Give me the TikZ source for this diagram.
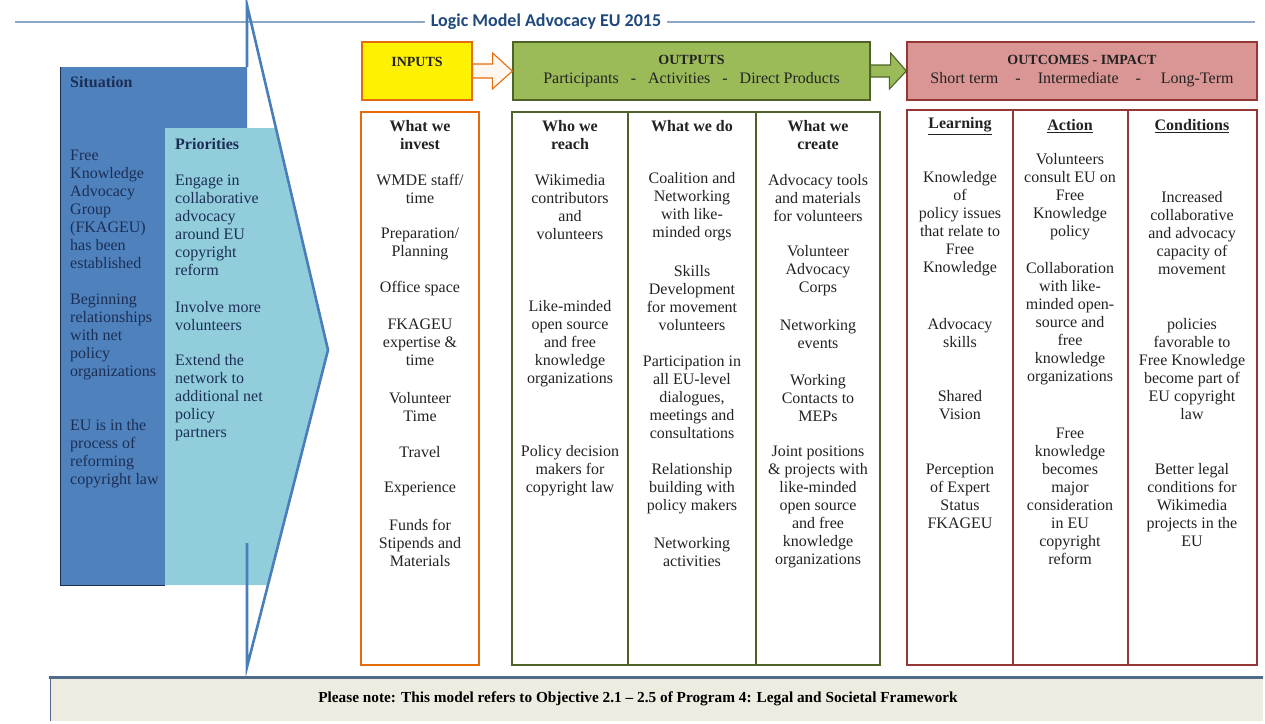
\documentclass[tikz,border=0pt]{standalone}
\usepackage{fontspec}
\setmainfont{Liberation Serif}
\newfontfamily\titlefont{Carlito}
\usetikzlibrary{calc}

\definecolor{bodytext}{HTML}{222222}
\definecolor{navytext}{HTML}{1B2F55}
\definecolor{titleblue}{HTML}{1F497D}
\definecolor{ruleblue}{HTML}{8EA9C8}
\definecolor{sitblue}{HTML}{4F81BD}
\definecolor{prioblue}{HTML}{92CDDC}
\definecolor{arrowblue}{HTML}{4A7EBB}
\definecolor{inyellow}{HTML}{FFF200}
\definecolor{inorange}{HTML}{E46C0A}
\definecolor{outgreen}{HTML}{9BBB59}
\definecolor{outline}{HTML}{4F6228}
\definecolor{impink}{HTML}{D99694}
\definecolor{imred}{HTML}{953735}
\definecolor{notebg}{HTML}{EEECE1}
\definecolor{noteline}{HTML}{4F6B8A}

\tikzset{
  txt/.style={font=\fontsize{16}{18}\selectfont, text=bodytext, align=center, inner sep=0pt},
  sit/.style={font=\fontsize{16}{18}\selectfont, text=navytext, align=left, anchor=west, inner sep=0pt},
  colhead/.style={txt, font=\fontsize{16}{18}\selectfont\bfseries},
  hdrbox/.style={font=\fontsize{16}{19}\selectfont, text=bodytext, align=center, inner sep=0pt,
    minimum height=58pt, line width=1.2pt},
  colin/.style={draw=inorange, line width=1.2pt},
  colout/.style={draw=outline, line width=1.2pt},
  colimp/.style={draw=imred, line width=1.2pt},
  hdrarrow/.style={line width=1.1pt, line join=miter}
}

\begin{document}
\begin{tikzpicture}[x=1pt,y=-1pt]
  \useasboundingbox (0,0) rectangle (1265,723);

  % title with rule
  \node[font=\titlefont\fontsize{18}{20}\selectfont\bfseries, text=titleblue, inner xsep=6pt] (title) at (546,22) {Logic Model Advocacy EU 2015};
  \coordinate (ruleL) at (15,22);
  \coordinate (ruleR) at (1255,22);
  \draw[ruleblue, line width=1.3pt] (ruleL) -- (title.west);
  \draw[ruleblue, line width=1.3pt] (title.east) -- (ruleR);

  % situation / priorities arrow
  \fill[sitblue] (60,67) -- (247,67) -- (247,128) -- (165,128) -- (165,585) -- (60,585) -- cycle;
  \fill[prioblue] (165,128) -- (276,128) -- (328,350) -- (268,585) -- (165,585) -- cycle;
  \draw[navytext, line width=0.8pt] (60,67) -- (60,585) -- (165,585);
  \draw[arrowblue, line width=2.6pt, line join=miter] (247,67) -- (247,5) -- (328,350) -- (247,667) -- (247,543);

  \node[sit, font=\fontsize{16}{18}\selectfont\bfseries] (situation) at (70,82) {Situation};
  \node[sit] (s1) at (70,209) {Free\\Knowledge\\Advocacy\\Group\\(FKAGEU)\\has been\\established};
  \node[sit] (s2) at (70,336.5) {Beginning\\relationships\\with net\\policy\\organizations};
  \node[sit] (s3) at (70,454) {EU is in the\\process of\\reforming\\copyright law};

  \node[sit, font=\fontsize{16}{18}\selectfont\bfseries] (priorities) at (175,144) {Priorities};
  \node[sit] (p1) at (175,225) {Engage in\\collaborative\\advocacy\\around EU\\copyright\\reform};
  \node[sit] (p2) at (175,316) {Involve more\\volunteers};
  \node[sit] (p3) at (175,398) {Extend the\\network to\\additional net\\policy\\partners};

  % header boxes
  \node[hdrbox, draw=inorange, fill=inyellow, minimum width=110pt] (inputs) at (417,71)
    {{\fontsize{14}{19}\selectfont\bfseries INPUTS}\\\phantom{X}};
  \node[hdrbox, draw=outline, fill=outgreen, minimum width=357pt] (outputs) at (691.5,71)
    {{\fontsize{14}{19}\selectfont\bfseries OUTPUTS}\\Participants\hspace{12pt}-\hspace{12pt}Activities\hspace{12pt}-\hspace{12pt}Direct Products};
  \node[hdrbox, draw=imred, fill=impink, minimum width=350pt] (outcomes) at (1082,71)
    {{\fontsize{14}{19}\selectfont\bfseries OUTCOMES - IMPACT}\\Short term\hspace{17pt}-\hspace{17pt}Intermediate\hspace{17pt}-\hspace{20pt}Long-Term};

  \draw[hdrarrow, draw=inorange, fill=orange!6] ($(inputs.east)+(0,-7)$) -- ++(20,0) -- ++(0,-11)
    -- (outputs.west) -- ++(-20,18) -- ++(0,-11) -- ($(inputs.east)+(0,7)$) -- cycle;
  \draw[hdrarrow, draw=outline, fill=outgreen] ($(outputs.east)+(0,-6)$) -- ++(20,0) -- ++(0,-12)
    -- (outcomes.west) -- ++(-17,18) -- ++(0,-12) -- ($(outputs.east)+(0,6)$) -- cycle;

  % column frames
  \draw[colin] (361,112) rectangle (479,665);
  \draw[colout] (512,112) rectangle (628,665);
  \draw[colout] (628,112) rectangle (756,665);
  \draw[colout] (756,112) rectangle (880,665);
  \draw[colimp] (907,110) rectangle (1013,665);
  \draw[colimp] (1013,110) rectangle (1128,665);
  \draw[colimp] (1128,110) rectangle (1257,665);

  % inputs
  \node[colhead] (invest) at (420,135) {What we\\invest};
  \node[txt] (i1) at (420,189) {WMDE staff/\\time};
  \node[txt] (i2) at (420,244) {Preparation/\\Planning};
  \node[txt] (i3) at (420,289) {Office space};
  \node[txt] (i4) at (420,342) {FKAGEU\\expertise \&\\time};
  \node[txt] (i5) at (420,407) {Volunteer\\Time};
  \node[txt] (i6) at (420,452) {Travel};
  \node[txt] (i7) at (420,489) {Experience};
  \node[txt] (i8) at (420,543) {Funds for\\Stipends and\\Materials};

  % outputs
  \node[colhead] (reach) at (570,135) {Who we\\reach};
  \node[txt] (r1) at (570,207) {Wikimedia\\contributors\\and\\volunteers};
  \node[txt] (r2) at (570,343.5) {Like-minded\\open source\\and free\\knowledge\\organizations};
  \node[txt] (r3) at (570,470.5) {Policy decision\\makers for\\copyright law};

  \node[colhead] (do) at (692,126) {What we do};
  \node[txt] (d1) at (692,207) {Coalition and\\Networking\\with like-\\minded orgs};
  \node[txt] (d2) at (692,298) {Skills\\Development\\for movement\\volunteers};
  \node[txt] (d3) at (692,397.5) {Participation in\\all EU-level\\dialogues,\\meetings and\\consultations};
  \node[txt] (d4) at (692,489) {Relationship\\building with\\policy makers};
  \node[txt] (d5) at (692,552) {Networking\\activities};

  \node[colhead] (create) at (818,135) {What we\\create};
  \node[txt] (c1) at (818,198) {Advocacy tools\\and materials\\for volunteers};
  \node[txt] (c2) at (818,271) {Volunteer\\Advocacy\\Corps};
  \node[txt] (c3) at (818,334) {Networking\\events};
  \node[txt] (c4) at (818,398) {Working\\Contacts to\\MEPs};
  \node[txt] (c5) at (818,506.5) {Joint positions\\\& projects with\\like-minded\\open source\\and free\\knowledge\\organizations};

  % outcomes
  \node[colhead] (learning) at (960,126) {\underline{Learning}};
  \node[txt] (l1) at (960,224) {Knowledge\\of\\policy issues\\that relate to\\Free\\Knowledge};
  \node[txt] (l2) at (960,333) {Advocacy\\skills};
  \node[txt] (l3) at (960,405) {Shared\\Vision};
  \node[txt] (l4) at (960,496) {Perception\\of Expert\\Status\\FKAGEU};

  \node[colhead] (action) at (1070,126) {\underline{Action}};
  \node[txt] (a1) at (1070,197) {Volunteers\\consult EU on\\Free\\Knowledge\\policy};
  \node[txt] (a2) at (1070,324) {Collaboration\\with like-\\minded open-\\source and\\free\\knowledge\\organizations};
  \node[txt] (a3) at (1070,496) {Free\\knowledge\\becomes\\major\\consideration\\in EU\\copyright\\reform};

  \node[colhead] (conditions) at (1192,126) {\underline{Conditions}};
  \node[txt] (k1) at (1192,233) {Increased\\collaborative\\and advocacy\\capacity of\\movement};
  \node[txt] (k2) at (1192,369) {policies\\favorable to\\Free Knowledge\\become part of\\EU copyright\\law};
  \node[txt] (k3) at (1192,505) {Better legal\\conditions for\\Wikimedia\\projects in the\\EU};

  % footer note
  \fill[notebg] (50,677) rectangle (1263,721);
  \draw[noteline, line width=0.8pt] (50,721) -- (50,677);
  \draw[noteline, line width=3pt] (49,677) -- (1263,677);
  \node[txt, font=\fontsize{15.3}{17}\selectfont\bfseries, text=black] (note) at (638,699)
    {Please note: This model refers to Objective 2.1 – 2.5 of Program 4: Legal and Societal Framework};
\end{tikzpicture}
\end{document}
